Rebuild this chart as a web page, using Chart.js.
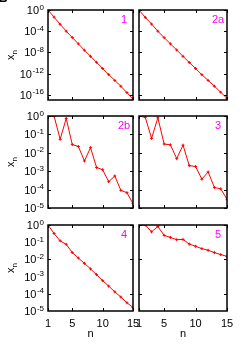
<!DOCTYPE html>
<html lang="en">
<head>
    <meta charset="UTF-8">
    <title>x_n against n, six panels</title>
    <script src="https://cdn.jsdelivr.net/npm/chart.js"></script>
    <style>
        body { margin: 0; background: #fff; }
        #wrap { position: relative; width: 242px; height: 346px; overflow: hidden; }
        #wrap canvas { position: absolute; left: 0; top: 0; }
    </style>
</head>
<body>
<div id="wrap"></div>

<script>
// categories and tick labels
const nValues = [1, 2, 3, 4, 5, 6, 7, 8, 9, 10, 11, 12, 13, 14, 15];
const xTickValues = [1, 5, 10, 15];
const yExpWide = [0, -2, -4, -6, -8, -10, -12, -14, -16];
const yExpWideLabels = [0, -4, -8, -12, -16];
const yExpNarrow = [0, -1, -2, -3, -4, -5];
const panelNames = ['1', '2a', '2b', '3', '4', '5'];

// series
const xn1 = [1, 4.5e-2, 2e-3, 1e-4, 6.3e-6, 4e-7, 2.5e-8, 1.8e-9, 1.3e-10, 8.9e-12, 6.3e-13, 5e-14, 4e-15, 2.5e-16, 1.3e-17];
const xn2a = [1, 4e-2, 2.2e-3, 1e-4, 6e-6, 4e-7, 2.8e-8, 1.8e-9, 1.2e-10, 9e-12, 6e-13, 5e-14, 4e-15, 3e-16, 2e-17];
const xn2b = [1, 1, 5.4e-2, 7.4e-1, 2.8e-2, 2.2e-2, 3.6e-3, 1.9e-2, 1.6e-3, 1.2e-3, 2.7e-4, 5.5e-4, 9.1e-5, 6.8e-5, 1.7e-5];
const xn3 = [1, 0.85, 6.1e-2, 8e-1, 3e-2, 2.7e-2, 4.8e-3, 2.6e-2, 2e-3, 1.8e-3, 3.7e-4, 9.1e-4, 1.3e-4, 1.1e-4, 3e-5];
const xn4 = [1, 3.2e-1, 1.2e-1, 7.5e-2, 2.5e-2, 1.2e-2, 5.9e-3, 2.8e-3, 1.3e-3, 5.8e-4, 2.8e-4, 1.3e-4, 6.5e-5, 3e-5, 1.6e-5];
const xn5 = [1, 1, 4e-1, 8.2e-1, 2.5e-1, 1.9e-1, 1.4e-1, 1.45e-1, 7.8e-2, 5.8e-2, 4.2e-2, 3.4e-2, 2.5e-2, 1.9e-2, 1.5e-2];

const FONT = '"Liberation Sans", Arial, sans-serif';
const W = 242, H = 346;

// plot boxes [left, top, right, bottom]
const panels = [
    { data: xn1,  name: panelNames[0], box: [48, 10, 133, 100],  yTicks: yExpWide,   yLabels: yExpWideLabels, yMin: 1e-17, left: true,  bottom: false },
    { data: xn2a, name: panelNames[1], box: [139, 10, 227, 100], yTicks: yExpWide,   yLabels: yExpWideLabels, yMin: 1e-17, left: false, bottom: false },
    { data: xn2b, name: panelNames[2], box: [48, 116, 133, 208],  yTicks: yExpNarrow, yLabels: yExpNarrow, yMin: 1e-5, left: true,  bottom: false },
    { data: xn3,  name: panelNames[3], box: [139, 116, 227, 208], yTicks: yExpNarrow, yLabels: yExpNarrow, yMin: 1e-5, left: false, bottom: false },
    { data: xn4,  name: panelNames[4], box: [48, 225, 133, 311],  yTicks: yExpNarrow, yLabels: yExpNarrow, yMin: 1e-5, left: true,  bottom: true },
    { data: xn5,  name: panelNames[5], box: [139, 225, 227, 311], yTicks: yExpNarrow, yLabels: yExpNarrow, yMin: 1e-5, left: false, bottom: true }
];

// "10" with a raised exponent, right aligned at xr
function drawPower(ctx, exp, xr, ym) {
    const sup = String(exp);
    ctx.font = '11px ' + FONT;
    const wb = ctx.measureText('10').width;
    ctx.font = '8px ' + FONT;
    const ws = ctx.measureText(sup).width;
    const x0 = xr - wb - ws - 0.5;
    ctx.textAlign = 'left';
    ctx.textBaseline = 'alphabetic';
    ctx.font = '11px ' + FONT;
    ctx.fillText('10', x0, ym + 4);
    ctx.font = '8px ' + FONT;
    ctx.fillText(sup, x0 + wb + 0.5, ym - 0.5);
}

// frame, inward ticks and all the text around a panel
const framePlugin = {
    id: 'frame',
    afterDatasetsDraw(chart, args, opts) {
        const { ctx, chartArea: a } = chart;
        const xs = chart.scales.x, ys = chart.scales.y;
        ctx.save();
        ctx.strokeStyle = '#000';
        ctx.lineWidth = 1;
        ctx.beginPath();
        xs.ticks.forEach(t => {
            const px = Math.round(xs.getPixelForValue(t.value)) + 0.5;
            ctx.moveTo(px, a.bottom); ctx.lineTo(px, a.bottom - 3);
            ctx.moveTo(px, a.top); ctx.lineTo(px, a.top + 3);
        });
        ys.ticks.forEach(t => {
            const py = Math.round(ys.getPixelForValue(t.value)) + 0.5;
            ctx.moveTo(a.left, py); ctx.lineTo(a.left + 3, py);
            ctx.moveTo(a.right, py); ctx.lineTo(a.right - 3, py);
        });
        ctx.stroke();
        ctx.lineWidth = 1.5;
        ctx.strokeRect(a.left, a.top, a.right - a.left, a.bottom - a.top);

        ctx.fillStyle = '#000';
        if (opts.left) {
            opts.yLabels.forEach(e => {
                drawPower(ctx, e, a.left - 4, ys.getPixelForValue(Math.pow(10, e)));
            });
            // x_n, rotated
            ctx.save();
            ctx.translate(14, (a.top + a.bottom) / 2);
            ctx.rotate(-Math.PI / 2);
            ctx.font = '11px ' + FONT;
            const wx = ctx.measureText('x').width;
            ctx.font = '8px ' + FONT;
            const wn = ctx.measureText('n').width;
            ctx.textAlign = 'left';
            ctx.textBaseline = 'alphabetic';
            ctx.font = '11px ' + FONT;
            ctx.fillText('x', -(wx + wn) / 2, 0);
            ctx.font = '8px ' + FONT;
            ctx.fillText('n', -(wx + wn) / 2 + wx, 3);
            ctx.restore();
        }
        if (opts.bottom) {
            ctx.font = '11px ' + FONT;
            ctx.textAlign = 'center';
            ctx.textBaseline = 'middle';
            xs.ticks.forEach(t => {
                ctx.fillText(String(t.value), xs.getPixelForValue(t.value), a.bottom + 13);
            });
            ctx.fillText('n', (a.left + a.right) / 2, a.bottom + 23);
        }
        // panel name
        ctx.fillStyle = '#ff00ff';
        ctx.font = '11px ' + FONT;
        ctx.textAlign = 'center';
        ctx.textBaseline = 'middle';
        ctx.fillText(opts.name, a.right - 9, a.top + 10);
        ctx.restore();
    }
};

const wrap = document.getElementById('wrap');

panels.forEach((p, i) => {
    const canvas = document.createElement('canvas');
    canvas.width = W;
    canvas.height = H;
    wrap.appendChild(canvas);
    const [l, t, r, b] = p.box;
    new Chart(canvas, {
        type: 'line',
        data: {
            datasets: [{
                data: nValues.map((n, k) => ({ x: n, y: p.data[k] })),
                borderColor: '#ff0000',
                borderWidth: 1,
                pointStyle: 'cross',
                pointRadius: 1.5,
                pointBorderWidth: 1,
                pointBorderColor: '#ff0000',
                pointBackgroundColor: '#ff0000',
                fill: false,
                tension: 0
            }]
        },
        options: {
            responsive: false,
            animation: false,
            devicePixelRatio: 1,
            events: [],
            layout: { padding: { left: l, top: t, right: W - r, bottom: H - b } },
            plugins: {
                legend: { display: false },
                tooltip: { enabled: false },
                frame: { name: p.name, left: p.left, bottom: p.bottom, yLabels: p.yLabels }
            },
            scales: {
                x: {
                    type: 'linear', min: 1, max: 15, display: false,
                    afterBuildTicks: s => { s.ticks = xTickValues.map(v => ({ value: v })); }
                },
                y: {
                    type: 'logarithmic', min: p.yMin, max: 1, display: false,
                    afterBuildTicks: s => { s.ticks = p.yTicks.map(e => ({ value: Math.pow(10, e) })); }
                }
            }
        },
        plugins: [framePlugin]
    });
    if (i === 0) {
        // corner letter of the larger figure, cut by the page edge
        const ctx = canvas.getContext('2d');
        ctx.fillStyle = '#000';
        ctx.font = 'bold 12px ' + FONT;
        ctx.textBaseline = 'alphabetic';
        ctx.fillText('B', -1, 2);
    }
});
</script>
</body>
</html>
